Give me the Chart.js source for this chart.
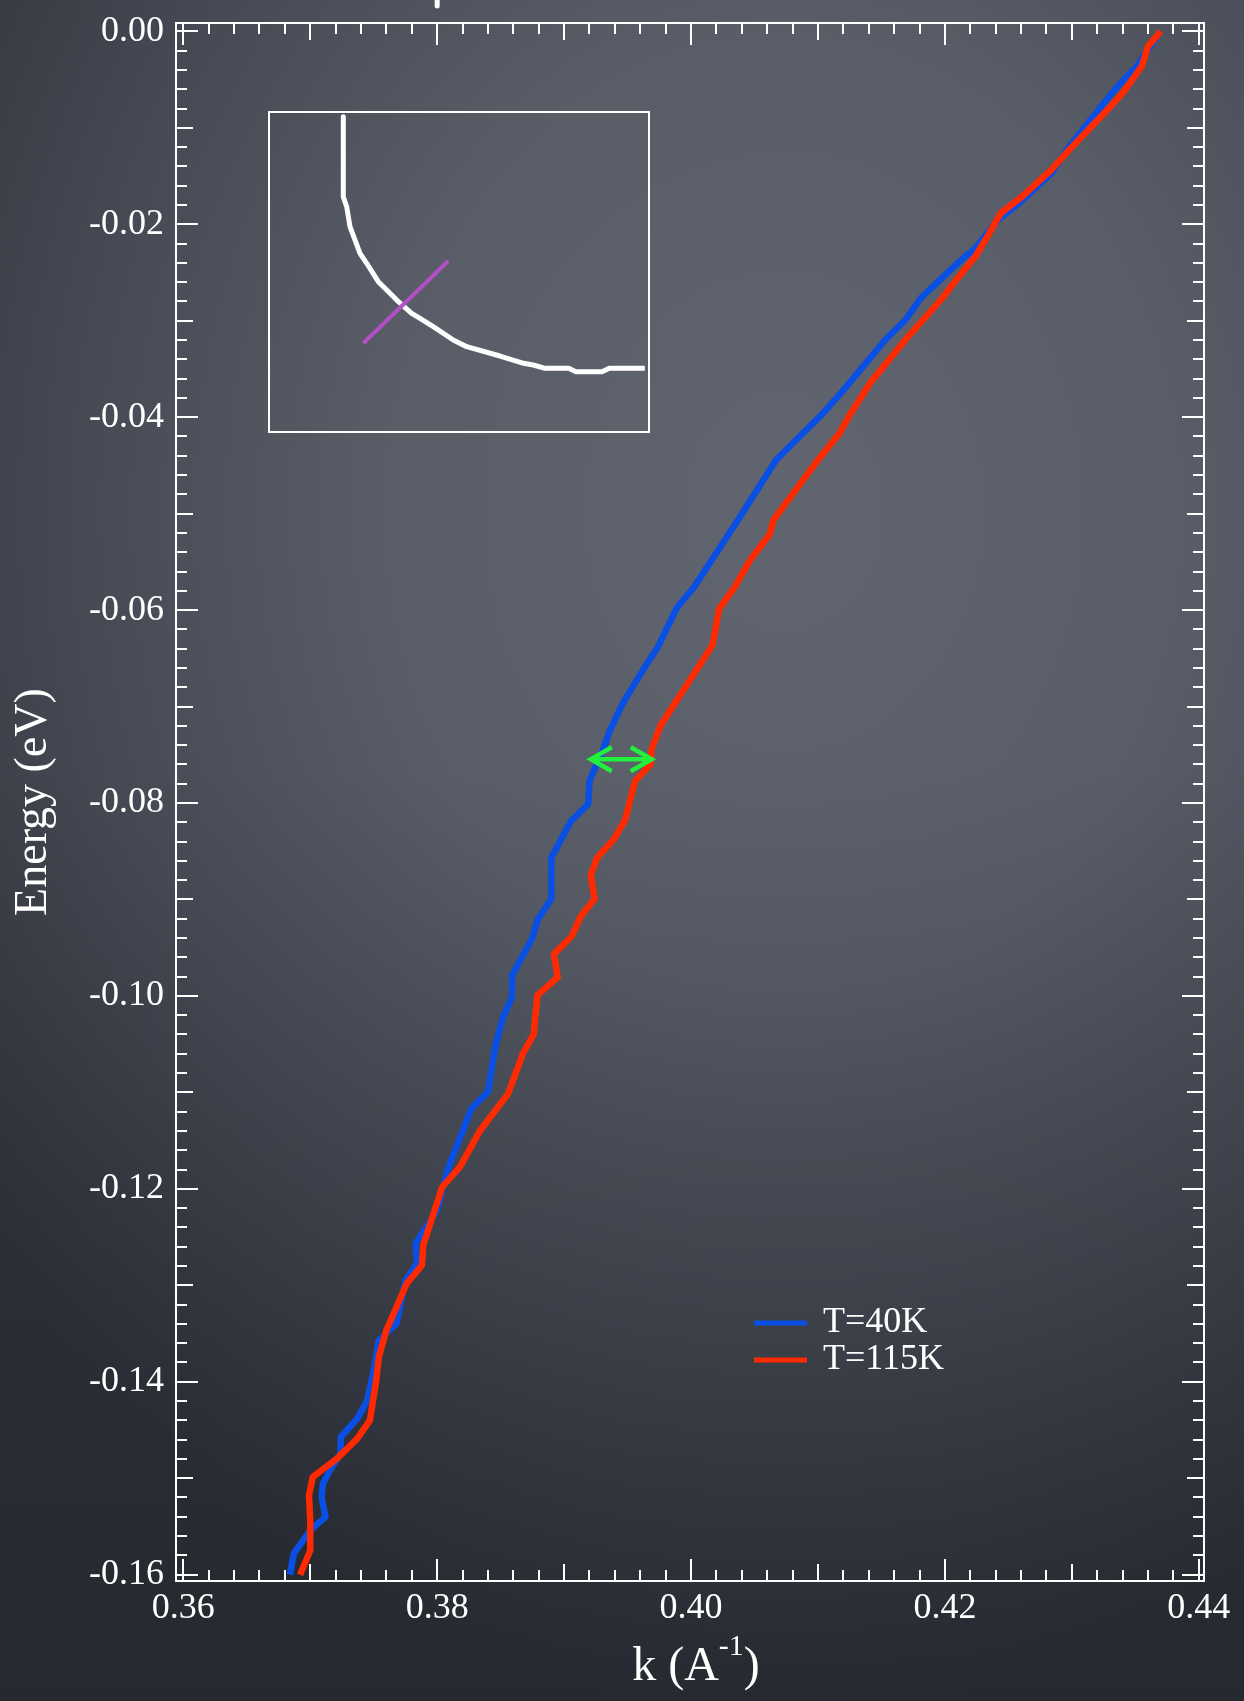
<!DOCTYPE html>
<html>
<head>
<meta charset="utf-8">
<script src="https://cdn.jsdelivr.net/npm/chart.js@4.4.1/dist/chart.umd.min.js"></script>
<style>
  html, body { margin: 0; padding: 0; }
  body {
    width: 1244px; height: 1701px; overflow: hidden; position: relative;
    background:
      linear-gradient(to bottom, rgba(20,22,28,0) 45%, rgba(20,22,28,0.35) 100%),
      radial-gradient(ellipse 1000px 1200px at 63% 30%, #60656f 0%, #585d67 40%, #464a54 70%, #30333b 100%);
  }
  #main { position: absolute; left: 0; top: 0; }
  #insetBox { position: absolute; left: 268px; top: 111px; width: 378px; height: 318px; border: 2px solid #fff; }
  #inset { display: block; }
</style>
</head>
<body>
<canvas id="main" width="1244" height="1701"></canvas>
<div id="insetBox"><canvas id="inset" width="378" height="318"></canvas></div>
<script>
// k (1/A) and energy (eV)
var blueK = [0.4370,0.4351,0.4336,0.4321,0.4298,0.4284,0.4257,0.4242,0.4224,0.4213,
             0.4199,0.4181,0.4169,0.4153,0.4119,0.4104,0.4067,0.4037,0.4026,0.4002,
             0.3989,0.3974,0.3963,0.3946,0.3936,0.3931,0.3920,0.3919,0.3905,0.3890,
             0.3890,0.3879,0.3875,0.3859,0.3859,0.3852,0.3846,0.3840,0.3827,0.3808,
             0.3800,0.3783,0.3784,0.3775,0.3768,0.3754,0.3750,0.3745,0.3737,0.3724,
             0.3724,0.3717,0.3710,0.3709,0.3712,0.3700,0.3687,0.3684];
var blueE = [0,-0.00363,-0.00570,-0.00812,-0.01193,-0.01469,-0.01798,-0.01953,-0.02247,-0.02368,
             -0.02541,-0.02765,-0.02990,-0.03198,-0.03734,-0.03958,-0.04443,-0.05065,-0.05287,-0.05769,
             -0.05972,-0.06380,-0.06602,-0.06972,-0.07250,-0.07436,-0.07769,-0.08010,-0.08195,-0.08566,
             -0.08992,-0.09214,-0.09400,-0.09789,-0.10010,-0.10214,-0.10510,-0.10995,-0.11167,-0.11807,
             -0.12222,-0.12567,-0.12775,-0.12948,-0.13397,-0.13570,-0.13881,-0.14193,-0.14382,-0.14573,
             -0.14745,-0.14884,-0.15057,-0.15196,-0.15403,-0.15541,-0.15783,-0.16000];

var redK = [0.4370,0.4360,0.4355,0.4340,0.4328,0.4313,0.4298,0.4284,0.4261,0.4244,
            0.4235,0.4224,0.4209,0.4198,0.4171,0.4141,0.4125,0.4117,0.4100,0.4065,
            0.4062,0.4047,0.4034,0.4022,0.4017,0.3997,0.3976,0.3969,0.3968,0.3956,
            0.3948,0.3939,0.3926,0.3921,0.3924,0.3913,0.3906,0.3892,0.3895,0.3879,
            0.3876,0.3868,0.3856,0.3834,0.3818,0.3804,0.3789,0.3788,0.3776,0.3760,
            0.3754,0.3752,0.3747,0.3737,0.3721,0.3702,0.3699,0.3700,0.3700,0.3692];
var redE = [0,-0.00156,-0.00363,-0.00639,-0.00812,-0.01020,-0.01227,-0.01434,-0.01711,-0.01884,
            -0.02091,-0.02334,-0.02575,-0.02765,-0.03164,-0.03647,-0.03976,-0.04166,-0.04443,-0.05065,
            -0.05213,-0.05472,-0.05769,-0.05991,-0.06361,-0.06769,-0.07195,-0.07436,-0.07602,-0.07769,
            -0.08177,-0.08380,-0.08566,-0.08751,-0.08992,-0.09177,-0.09381,-0.09565,-0.09806,-0.09992,
            -0.10399,-0.10584,-0.11011,-0.11392,-0.11773,-0.11980,-0.12585,-0.12792,-0.12982,-0.13466,
            -0.13744,-0.13985,-0.14400,-0.14590,-0.14797,-0.14988,-0.15178,-0.15437,-0.15749,-0.16000];

var seriesLabels = ["T=40K", "T=115K"];

// green double arrow between the curves
var arrowK = [0.3921, 0.3969];
var arrowE = -0.07547;

var xTicks = [0.36, 0.38, 0.40, 0.42, 0.44];
var yTicks = [0, -0.02, -0.04, -0.06, -0.08, -0.10, -0.12, -0.14, -0.16];

// inset: Fermi surface sketch, in inset units 0..100
var insetU = [19.39,19.39,20.29,21.16,23.81,25.58,28.65,30.87,33.52,37.49,39.68,43.20,
              48.49,52.04,60.85,67.12,69.63,72.78,79.05,80.93,87.83,89.74,99.15];
var insetV = [98.84,73.68,70.53,64.25,55.88,52.74,46.95,44.34,41.19,37.01,35.44,32.80,
              28.62,26.51,23.58,21.29,20.75,19.72,19.72,18.65,18.65,19.72,19.72];
var cutU = [24.68, 47.17];
var cutV = [27.58, 53.46];

var serif = "'Liberation Serif', 'Times New Roman', serif";
Chart.defaults.font.family = serif;
Chart.defaults.color = "#ffffff";

function pts(xs, ys) {
    return xs.map(function (v, i) { return { x: v, y: ys[i] }; });
}

function noPad(s) {
    s.paddingTop = 0; s.paddingBottom = 0; s.paddingLeft = 0; s.paddingRight = 0;
}

const frame = {
    id: "frame",
    beforeDatasetsDraw(chart) {
        const ctx = chart.ctx, a = chart.chartArea;
        const xs = chart.scales.x, ys = chart.scales.y;
        ctx.save();
        ctx.strokeStyle = "#ffffff";
        ctx.lineWidth = 2;
        ctx.strokeRect(a.left, a.top, a.right - a.left, a.bottom - a.top);
        ctx.beginPath();
        for (let i = 0; i <= 40; i++) {
            const px = Math.round(xs.getPixelForValue(0.36 + i * 0.002));
            const len = i % 10 === 0 ? 22 : (i % 5 === 0 ? 17 : 11);
            ctx.moveTo(px, a.top); ctx.lineTo(px, a.top + len);
            ctx.moveTo(px, a.bottom); ctx.lineTo(px, a.bottom - len);
        }
        for (let i = 0; i <= 80; i++) {
            const py = Math.round(ys.getPixelForValue(-i * 0.002));
            const len = i % 10 === 0 ? 22 : (i % 5 === 0 ? 17 : 11);
            ctx.moveTo(a.left, py); ctx.lineTo(a.left + len, py);
            ctx.moveTo(a.right, py); ctx.lineTo(a.right - len, py);
        }
        ctx.stroke();
        // clipped mark above the frame
        const mx = xs.getPixelForValue(0.38);
        ctx.lineWidth = 5;
        ctx.lineCap = "round";
        ctx.beginPath();
        ctx.moveTo(mx, -4); ctx.lineTo(mx, 6);
        ctx.stroke();
        ctx.restore();
    },
    afterDatasetsDraw(chart) {
        const ctx = chart.ctx;
        const xs = chart.scales.x, ys = chart.scales.y;
        const x1 = xs.getPixelForValue(arrowK[0]), x2 = xs.getPixelForValue(arrowK[1]);
        const y0 = ys.getPixelForValue(arrowE);
        ctx.save();
        ctx.strokeStyle = "#22f03c";
        ctx.lineWidth = 4.5;
        ctx.beginPath();
        ctx.moveTo(x1, y0); ctx.lineTo(x2, y0);
        ctx.moveTo(x1 + 21, y0 - 12); ctx.lineTo(x1, y0); ctx.lineTo(x1 + 21, y0 + 12);
        ctx.moveTo(x2 - 21, y0 - 12); ctx.lineTo(x2, y0); ctx.lineTo(x2 - 21, y0 + 12);
        ctx.stroke();
        ctx.restore();
    },
    afterDraw(chart) {
        const ctx = chart.ctx;
        ctx.save();
        // legend
        const sets = chart.data.datasets;
        ctx.font = "36px " + serif;
        ctx.textBaseline = "middle";
        ctx.fillStyle = "#ffffff";
        sets.slice().sort(function (p, q) { return p.legendRank - q.legendRank; }).forEach(function (ds, i) {
            const y = 1323 + i * 37;
            ctx.strokeStyle = ds.borderColor;
            ctx.lineWidth = 5;
            ctx.beginPath();
            ctx.moveTo(754, y); ctx.lineTo(807, y);
            ctx.stroke();
            ctx.fillText(ds.label, 823, y);
        });
        // x axis title with superscript
        const big = "48px " + serif, small = "30px " + serif;
        ctx.textBaseline = "alphabetic";
        ctx.font = big;
        const w1 = ctx.measureText("k (A").width, w3 = ctx.measureText(")").width;
        ctx.font = small;
        const w2 = ctx.measureText("-1").width;
        const cx = (chart.chartArea.left + chart.chartArea.right) / 2 + 6;
        let x = cx - (w1 + w2 + w3) / 2;
        const base = 1680;
        ctx.font = big; ctx.fillText("k (A", x, base); x += w1;
        ctx.font = small; ctx.fillText("-1", x, base - 25); x += w2;
        ctx.font = big; ctx.fillText(")", x, base);
        ctx.restore();
    }
};

new Chart(document.getElementById("main"), {
    type: "scatter",
    data: {
        datasets: [
            {
                label: seriesLabels[0], legendRank: 0, order: 2,
                data: pts(blueK, blueE),
                borderColor: "#0a4fe3", borderWidth: 6.5
            },
            {
                label: seriesLabels[1], legendRank: 1, order: 1,
                data: pts(redK, redE),
                borderColor: "#ff2a00", borderWidth: 6.5
            }
        ]
    },
    options: {
        responsive: false,
        animation: false,
        showLine: true,
        elements: {
            point: { radius: 0, hoverRadius: 0 },
            line: { tension: 0, borderJoinStyle: "round", borderCapStyle: "butt", fill: false }
        },
        layout: { padding: { left: 0, top: 23, right: 40, bottom: 0 } },
        plugins: { legend: { display: false }, tooltip: { enabled: false } },
        scales: {
            x: {
                type: "linear",
                min: 0.359425, max: 0.44041,
                grid: { display: false, drawTicks: false },
                border: { display: false },
                afterBuildTicks: function (s) { s.ticks = xTicks.map(function (v) { return { value: v }; }); },
                afterFit: function (s) { s.height = 120; noPad(s); },
                ticks: {
                    autoSkip: false, maxRotation: 0, padding: 6,
                    font: { size: 36 }, color: "#ffffff",
                    callback: function (v) { return Number(v).toFixed(2); }
                }
            },
            y: {
                type: "linear",
                min: -0.16066, max: 0.00087,
                grid: { display: false, drawTicks: false },
                border: { display: false },
                afterBuildTicks: function (s) { s.ticks = yTicks.map(function (v) { return { value: v }; }); },
                afterFit: function (s) { s.width = 176; noPad(s); },
                ticks: {
                    autoSkip: false, padding: 12,
                    font: { size: 36 }, color: "#ffffff",
                    callback: function (v) { return Number(v).toFixed(2); }
                },
                title: {
                    display: true, text: "Energy (eV)", color: "#ffffff",
                    font: { size: 46 }, padding: { top: 6, bottom: 0 }
                }
            }
        }
    },
    plugins: [frame]
});

new Chart(document.getElementById("inset"), {
    type: "scatter",
    data: {
        datasets: [
            { data: pts(insetU, insetV), borderColor: "#ffffff", borderWidth: 5, order: 1 },
            { data: pts(cutU, cutV), borderColor: "#b24fc4", borderWidth: 4, order: 0 }
        ]
    },
    options: {
        responsive: false,
        animation: false,
        showLine: true,
        elements: {
            point: { radius: 0, hoverRadius: 0 },
            line: { tension: 0, borderJoinStyle: "round", fill: false }
        },
        layout: { padding: 0 },
        plugins: { legend: { display: false }, tooltip: { enabled: false } },
        scales: {
            x: { type: "linear", display: false, min: 0, max: 100 },
            y: { type: "linear", display: false, min: 0, max: 100 }
        }
    }
});
</script>
</body>
</html>
